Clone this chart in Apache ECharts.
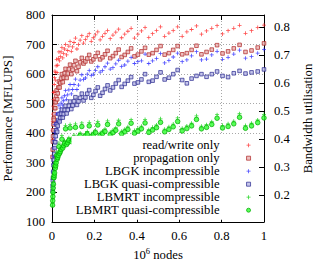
<!DOCTYPE html>
<html><head><meta charset="utf-8">
<script src="https://cdn.jsdelivr.net/npm/echarts@6/dist/echarts.min.js"></script>
<style>html,body{margin:0;padding:0;background:#fff}#c{width:334px;height:275px}</style>
</head><body><div id="c"></div>
<script>
// x: lattice nodes in units of 10^6 (cubic domains)
const nodes = [0.0027,0.0034,0.0041,0.0049,0.0058,0.0069,0.008,0.0093,0.0106,0.0122,
0.0138,0.0156,0.0176,0.0197,0.022,0.0244,0.027,0.0298,0.0328,0.0359,
0.0393,0.0429,0.0467,0.0507,0.0549,0.0593,0.064,0.0689,0.0741,0.0795,
0.0852,0.0911,0.0973,0.1038,0.1106,0.1176,0.125,0.1327,0.1406,0.1489,
0.1575,0.1664,0.1756,0.1852,0.1951,0.2054,0.216,0.227,0.2383,0.25,
0.2621,0.2746,0.2875,0.3008,0.3144,0.3285,0.343,0.3579,0.3732,0.389,
0.4052,0.4219,0.439,0.4565,0.4746,0.493,0.512,0.5314,0.5514,0.5718,
0.5927,0.6141,0.6361,0.6585,0.6815,0.705,0.729,0.7536,0.7787,0.8044,
0.8306,0.8574,0.8847,0.9127,0.9412,0.9703,1.0];

const readWrite = [380,410,440,465,492,515,538,540,565,588,
610,580,605,628,650,605,630,653,675,645,
660,675,690,655,670,685,700,665,680,695,
710,677,692,707,722,685,700,715,730,705,
717,727,737,711,723,733,743,716,728,738,
748,720,732,742,752,723,735,745,755,722,
735,746,758,724,737,748,760,728,739,748,
760,728,743,751,763,735,746,755,764,736,
747,755,765,738,747,758,766];

const propagation = [320,345,372,390,410,430,450,445,465,485,
505,485,505,525,545,515,535,555,575,555,
570,585,600,573,588,603,618,587,602,617,
632,600,615,630,645,610,625,640,655,636,
643,653,665,643,650,660,672,650,657,667,
679,654,661,671,683,658,665,675,687,660,
666,677,689,666,671,682,695,666,671,682,
695,667,671,682,696,667,675,683,698,670,
677,687,699,675,680,690,704];

const lbgkInc = [225,245,270,270,295,322,350,350,375,402,
430,385,410,437,465,415,440,467,495,470,
485,502,520,495,510,527,545,515,530,547,
565,533,548,565,583,548,563,580,598,582,
587,600,612,595,600,613,625,607,612,625,
637,617,622,635,647,626,631,644,656,636,
642,645,668,636,645,653,670,638,646,658,
671,642,648,662,676,648,651,665,677,650,
657,668,681,654,660,671,683];

const lbgkQuasi = [205,222,240,250,270,292,310,310,330,350,
370,370,390,410,430,405,425,445,465,440,
452,466,480,453,465,479,493,467,479,493,
507,482,494,508,522,496,508,520,534,511,
521,534,546,520,530,543,555,527,537,550,
562,545,555,568,580,557,567,578,590,568,
572,582,600,574,578,591,606,582,588,600,
614,580,569,585,594,600,591,600,609,594,
590,603,611,602,606,609,616];

const lbmrtInc = [165,180,196,208,223,236,260,258,266,274,
302,291,299,309,337,321,327,334,367,341,
347,354,392,359,367,375,427,371,377,385,
430,381,387,394,432,387,394,401,435,392,
399,406,437,397,404,411,440,401,408,415,
442,404,411,419,444,407,414,422,446,409,
416,424,447,412,420,428,449,414,422,431,
452,417,425,434,459,424,429,439,463,427,
432,441,466,426,434,445,464];

const lbmrtQuasi = [157,172,186,200,215,228,250,250,258,266,
290,282,290,300,325,312,318,325,355,332,
338,345,380,350,358,366,415,362,368,376,
418,372,378,385,420,378,385,392,423,383,
390,397,425,388,395,402,428,392,399,406,
430,395,402,410,432,398,405,413,434,400,
407,415,435,403,411,419,437,405,413,422,
440,408,416,425,447,415,420,430,451,418,
423,432,454,417,425,436,452];

const seriesNames = ['read/write only','propagation only','LBGK incompressible',
  'LBGK quasi-compressible','LBMRT incompressible','LBMRT quasi-compressible'];
const xTicks = [0,0.2,0.4,0.6,0.8,1];
const perfRange = [100,800];
const bwTicks = [0.2,0.3,0.4,0.5,0.6,0.7,0.8];
const perfPerBandwidth = 950; // MFLUPS at full bandwidth utilisation

const FONT = 'Liberation Serif';
const FS = 12.7;
const PLUS = 'path://M2,0H3V2H5V3H3V5H2V3H0V2H2Z';
const SQUARE = 'path://M0,0H10V10H0Z';
const DOT = 'path://M5,0A5,5,0,1,1,5,10A5,5,0,1,1,5,0Z';

const pair = vals => nodes.map((x, i) => [x, vals[i]]);
const styles = [
  {symbol: PLUS, size: 4, item: {color: '#ff2020', borderWidth: 0}},
  {symbol: SQUARE, size: 3.6, item: {color: '#e8b0b0', borderColor: '#b02828', borderWidth: 0.9}},
  {symbol: PLUS, size: 4, item: {color: '#2020ff', borderWidth: 0}},
  {symbol: SQUARE, size: 3.6, item: {color: '#b8b8e6', borderColor: '#2a2a90', borderWidth: 0.9}},
  {symbol: PLUS, size: 4, item: {color: '#00d000', borderWidth: 0}},
  {symbol: DOT, size: 4.6, item: {color: '#30ff30', borderColor: '#00a800', borderWidth: 0.9}}
];
const allVals = [readWrite, propagation, lbgkInc, lbgkQuasi, lbmrtInc, lbmrtQuasi];

const txt = {fontFamily: FONT, fontSize: FS, color: '#000'};
const black = {color: '#000', width: 1};
const dotted = {color: '#a8a8a8', width: 1, type: [1, 2]};

const chart = echarts.init(document.getElementById('c'), null, {renderer: 'svg'});
chart.setOption({
  animation: false,
  backgroundColor: '#fff',
  textStyle: {fontFamily: FONT},
  grid: [
    {left: 52, top: 15, width: 212, height: 207, outerBoundsMode: 'none', containLabel: false},
    {left: 52, top: 15, width: 212, height: 207 * 4 / 7, outerBoundsMode: 'none', containLabel: false}
  ],
  xAxis: [
    {type: 'value', gridIndex: 0, position: 'bottom', min: xTicks[0], max: xTicks[xTicks.length - 1], interval: 0.2,
     axisLine: {show: true, onZero: false, lineStyle: black},
     axisTick: {show: true, inside: true, length: 5, lineStyle: black},
     axisLabel: Object.assign({margin: 7}, txt),
     splitLine: {show: false},
     name: '10{sup|6} nodes', nameLocation: 'middle', nameGap: 24,
     nameTextStyle: Object.assign({lineHeight: 16, rich: {sup: {fontFamily: FONT, fontSize: 8.5, color: '#000', verticalAlign: 'top', lineHeight: 7}}}, txt)},
    {type: 'value', gridIndex: 0, position: 'top', min: 0, max: 1, interval: 0.2,
     axisLine: {show: true, onZero: false, lineStyle: black},
     axisTick: {show: true, inside: true, length: 5, lineStyle: black},
     axisLabel: {show: false}, splitLine: {show: false}},
    {type: 'value', gridIndex: 1, min: 0, max: 1, interval: 0.2,
     axisLine: {show: false}, axisTick: {show: false}, axisLabel: {show: false},
     splitLine: {show: true, lineStyle: dotted}}
  ],
  yAxis: [
    {type: 'value', gridIndex: 0, position: 'left', min: perfRange[0], max: perfRange[1], interval: 100,
     axisLine: {show: true, onZero: false, lineStyle: black},
     axisTick: {show: true, inside: true, length: 5, lineStyle: black},
     axisLabel: Object.assign({margin: 7}, txt),
     splitLine: {show: false},
     name: 'Performance [MFLUPS]', nameLocation: 'middle', nameGap: 35, nameRotate: 90,
     nameTextStyle: Object.assign({lineHeight: 15}, txt)},
    {type: 'value', gridIndex: 0, position: 'right',
     min: perfRange[0] / perfPerBandwidth, max: perfRange[1] / perfPerBandwidth,
     axisLine: {show: true, onZero: false, lineStyle: black},
     axisTick: {show: true, inside: true, length: 5, lineStyle: black, customValues: bwTicks},
     axisLabel: Object.assign({margin: 10, customValues: bwTicks, formatter: v => v.toFixed(1)}, txt),
     splitLine: {show: false},
     name: 'Bandwidth utilisation', nameLocation: 'middle', nameGap: 35, nameRotate: 90,
     nameTextStyle: Object.assign({lineHeight: 15}, txt)},
    {type: 'value', gridIndex: 1, min: 400, max: 800, interval: 100,
     axisLine: {show: false}, axisTick: {show: false}, axisLabel: {show: false},
     splitLine: {show: true, lineStyle: dotted}}
  ],
  legend: {
    orient: 'vertical', align: 'right', right: 77, top: 135.7,
    padding: [3, 6, 3, 4], backgroundColor: '#fff',
    itemWidth: 4, itemHeight: 4, itemGap: 0, selectedMode: false, symbolKeepAspect: true,
    textStyle: Object.assign({lineHeight: 12.65, padding: [0, 22, 0, 0]}, txt),
    data: seriesNames.map((n, i) => ({name: n, icon: styles[i].symbol, itemStyle: Object.assign({}, styles[i].item)}))
  },
  series: seriesNames.map((n, i) => ({
    type: 'scatter', name: n, xAxisIndex: 0, yAxisIndex: 0,
    symbol: styles[i].symbol, symbolSize: styles[i].size,
    itemStyle: styles[i].item, silent: true,
    data: pair(allVals[i])
  }))
});
</script>
</body></html>
